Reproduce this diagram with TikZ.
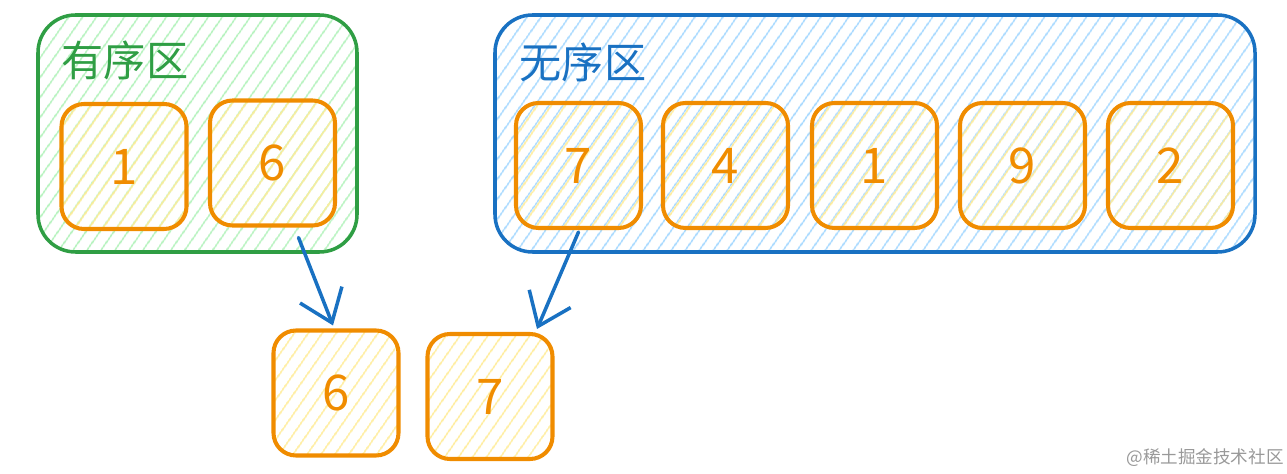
\documentclass[tikz,border=0pt]{standalone}
\usepackage{fontspec}
\newfontfamily\cjk{Noto Sans CJK SC}
\usetikzlibrary{arrows.meta,patterns.meta,calc}

\definecolor{grnline}{HTML}{2F9E44}
\definecolor{grnfill}{HTML}{B2F2BB}
\definecolor{bluline}{HTML}{1971C2}
\definecolor{blufill}{HTML}{A5D8FF}
\definecolor{orgline}{HTML}{F08C00}
\definecolor{orgfill}{HTML}{FFEC99}

\tikzset{
    area/.style={draw, rounded corners=0.75cm, line width=2pt,
        minimum width=#1, minimum height=4.74cm},
    numbox/.style={draw=orgline, rounded corners=0.45cm, line width=2.3pt,
        minimum size=2.5cm, font=\cjk\fontsize{28}{28}\selectfont, text=orgline,
        pattern={Lines[angle=55,distance=6.5pt,line width=1pt]}, pattern color=orgfill},
    arealabel/.style={font=\cjk\fontsize{24}{24}\selectfont},
    move/.style={draw=bluline, line width=2pt, line cap=round,
        -{Straight Barb[length=6mm,width=9mm,line width=2pt]}}
}

\begin{document}
\begin{tikzpicture}
            \useasboundingbox (0,0) rectangle (25.74,-9.48);

            % sorted / unsorted areas
            \node[area=6.38cm, draw=grnline, pattern={Lines[angle=55,distance=6.5pt,line width=1pt]}, pattern color=grnfill] at (3.95,-2.67) (ORD) {};
            \node[area=15.2cm, draw=bluline, pattern={Lines[angle=55,distance=6.5pt,line width=1pt]}, pattern color=blufill] at (17.5,-2.67) (UNORD) {};

            \node[arealabel, text=grnline] at (2.5,-1.2) (ORDL) {有序区};
            \node[arealabel, text=bluline] at (11.66,-1.24) (UNORDL) {无序区};

            % sorted part
            \node[numbox] at (2.48,-3.33) (S1) {1};
            \node[numbox] at (5.45,-3.26) (S6) {6};

            % unsorted part
            \node[numbox] at (11.57,-3.31) (U7) {7};
            \node[numbox] at (14.51,-3.31) (U4) {4};
            \node[numbox] at (17.49,-3.31) (U1) {1};
            \node[numbox] at (20.45,-3.31) (U9) {9};
            \node[numbox] at (23.41,-3.31) (U2) {2};

            % compared pair
            \node[numbox] at (6.72,-7.86) (T6) {6};
            \node[numbox] at (9.8,-7.93) (T7) {7};

            \draw[move] ($(S6.south)+(0.52,-0.2)$) -- ($(T6.north)+(-0.06,0.06)$);
            \draw[move] ($(U7.south)+(0,-0.04)$) -- ($(T7.north)+(0.94,0.06)$);

            \node[text=black!40, font=\cjk\fontsize{10}{10}\selectfont] at (24.1,-9.16) (MARK) {@稀土掘金技术社区};
\end{tikzpicture}
\end{document}
